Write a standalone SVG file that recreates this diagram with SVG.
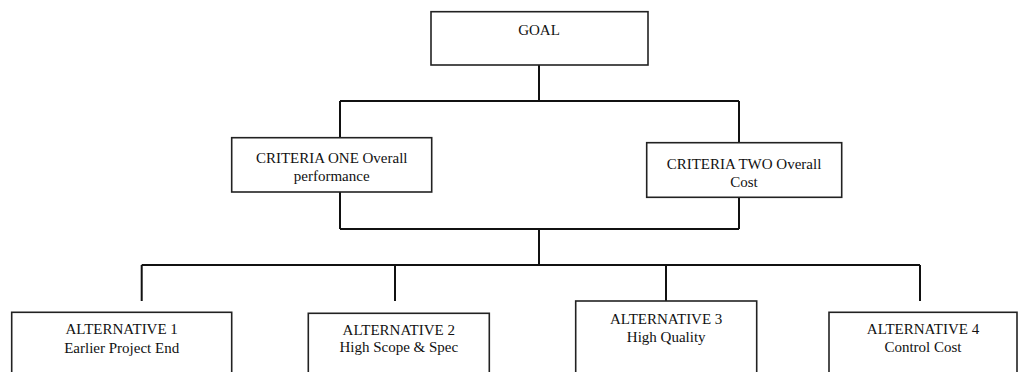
<svg xmlns="http://www.w3.org/2000/svg" width="1019" height="372" viewBox="0 0 1019 372">
<style>
.box{fill:#fff;stroke:#222;stroke-width:1.6}
.lbl{font-family:"Liberation Serif","Times New Roman",serif;font-size:15px;fill:#111;text-anchor:middle}
.conn{fill:none;stroke:#111;stroke-width:2}
</style>
<rect width="1019" height="372" fill="#fff"/>
<g id="connectors">
<path class="conn" d="M539,65 V101 M340,101 H739 M340,101 V138 M739,101 V143"/>
<path class="conn" d="M340,192 V229 M739,197 V229 M340,229 H739 M539,229 V265"/>
<path class="conn" d="M141.7,265 H920 M141.7,265 V301 M395,265 V301 M666,265 V301 M920,265 V301"/>
</g>
<g id="goal">
<rect class="box" x="431" y="11.7" width="217" height="53.3"/>
<text class="lbl" x="539" y="35">GOAL</text>
</g>
<g id="criteria1">
<rect class="box" x="231.7" y="137.7" width="200" height="54.3"/>
<text class="lbl" x="331.7" y="163">CRITERIA ONE Overall</text>
<text class="lbl" x="331.7" y="181">performance</text>
</g>
<g id="criteria2">
<rect class="box" x="646.7" y="142.7" width="195" height="54.6"/>
<text class="lbl" x="744" y="169">CRITERIA TWO Overall</text>
<text class="lbl" x="744" y="187">Cost</text>
</g>
<g id="alt1">
<rect class="box" x="11.7" y="312.3" width="220" height="70"/>
<text class="lbl" x="121.7" y="334.3">ALTERNATIVE 1</text>
<text class="lbl" x="121.7" y="352.5">Earlier Project End</text>
</g>
<g id="alt2">
<rect class="box" x="308.3" y="313.3" width="181" height="70"/>
<text class="lbl" x="398.8" y="335">ALTERNATIVE 2</text>
<text class="lbl" x="398.8" y="352">High Scope &amp; Spec</text>
</g>
<g id="alt3">
<rect class="box" x="575.7" y="301" width="181" height="80"/>
<text class="lbl" x="666.2" y="324">ALTERNATIVE 3</text>
<text class="lbl" x="666.2" y="342">High Quality</text>
</g>
<g id="alt4">
<rect class="box" x="829" y="312.3" width="188" height="70"/>
<text class="lbl" x="923" y="334.3">ALTERNATIVE 4</text>
<text class="lbl" x="923" y="352.3">Control Cost</text>
</g>
</svg>
